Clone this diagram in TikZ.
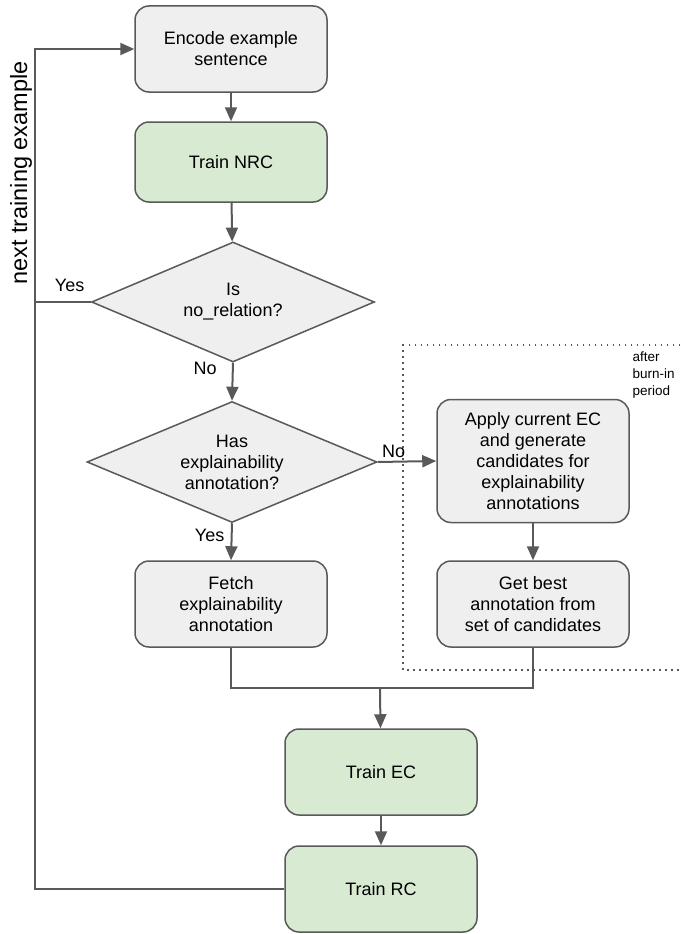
\documentclass[tikz,border=0pt]{standalone}
\usepackage{fontspec}
\setmainfont{Liberation Sans}
\usepackage{tikz}
\usetikzlibrary{shapes.geometric,arrows.meta}
\definecolor{edge}{HTML}{595959}
\definecolor{greyfill}{HTML}{EFEFEF}
\definecolor{greenfill}{HTML}{D9EAD3}

\begin{document}
\begin{tikzpicture}[x=1pt,y=-1pt]
    \tikzset{box/.style={draw=edge,line width=1.5pt,fill=greyfill,rounded corners=14pt,minimum width=192pt,minimum height=86pt,align=center,font=\fontsize{18}{21}\selectfont},
             greenbox/.style={box,fill=greenfill},
             decision/.style={draw=edge,line width=1.5pt,fill=greyfill,diamond,aspect=2.4,inner sep=0pt,align=center,font=\fontsize{18}{21}\selectfont},
             lbl/.style={font=\fontsize{18}{21}\selectfont,text=black},
             arr/.style={draw=edge,line width=2pt,-{Triangle[length=14pt,width=12pt]}},
             wire/.style={draw=edge,line width=2pt}};
    \useasboundingbox (0,0) rectangle (680,934);
	\node (enc) at (231,49) [box]{Encode example\\sentence};
	\node (nrc) at (231,162) [greenbox,minimum height=80pt]{Train NRC};
	\node (isnone) at (233,302) [decision,minimum width=283pt,minimum height=120pt]{Is\\no\_relation?};
	\node (hasexp) at (232,462) [decision,minimum width=290pt,minimum height=121pt]{Has\\explainability\\annotation?};
	\node (fetch) at (231,604) [box]{Fetch\\explainability\\annotation};
	\node (apply) at (533,461) [box,minimum height=123pt]{Apply current EC\\and generate\\candidates for\\explainability\\annotations};
	\node (best) at (533,604) [box]{Get best\\annotation from\\set of candidates};
	\node (ec) at (381,772) [greenbox]{Train EC};
	\node (rc) at (381,889) [greenbox]{Train RC};
	\node (burnin) at (629,375) [anchor=west,align=left,font=\fontsize{13.5}{17}\selectfont]{after\\burn-in\\period};
	\node (loop) at (21,173) [rotate=90,font=\fontsize{23.5}{28}\selectfont]{next training example};
	\coordinate (back) at (35,49);
	\coordinate (join) at (380,688);
	\draw[edge,line width=1.5pt,dash pattern=on 1.5pt off 4.5pt] (680,345) -| (403,670) -- (680,670);
	\draw[arr] (enc) -- (nrc);
	\draw[arr] (nrc) -- (isnone);
	\draw[arr] (isnone.south) -- node[lbl,left,pos=0.15,xshift=-12pt]{No} (hasexp.north);
	\draw[wire] (isnone.west) -- node[lbl,above,pos=0.38,yshift=6pt]{Yes} (isnone.west -| back);
	\draw[arr] (hasexp.east) -- node[lbl,above,pos=0.27]{No} (apply.west);
	\draw[arr] (hasexp.south) -- node[lbl,left,pos=0.33,xshift=-3pt]{Yes} (fetch.north);
	\draw[arr] (apply) -- (best);
	\draw[wire] (fetch.south) |- (join) -| (best.south);
	\draw[arr] (join) -- (ec);
	\draw[arr] (ec) -- (rc);
	\draw[arr] (rc.west) -| (back) -- (enc.west);
\end{tikzpicture}
\end{document}
